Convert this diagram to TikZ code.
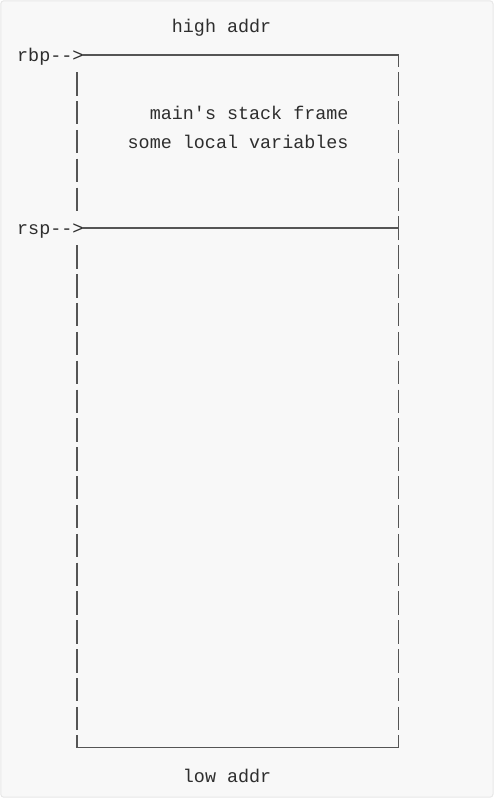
\documentclass[tikz,border=0pt]{standalone}
\usepackage{fontspec}
\newfontfamily\mono{Liberation Mono}
\definecolor{bgc}{HTML}{F8F8F8}
\definecolor{bordc}{HTML}{E8E8E8}
\definecolor{textc}{HTML}{2E2E2E}
\definecolor{linec}{HTML}{555555}
\tikzset{
  txt/.style={font=\mono\fontsize{18.4}{20}\selectfont, text=textc, inner sep=0pt, anchor=base west},
  ln/.style={draw=linec, line width=1.3pt},
}
\begin{document}
\begin{tikzpicture}[x=1pt,y=-1pt]
\useasboundingbox (0,0) rectangle (496,798);
\fill[bgc, draw=bordc, line width=1pt, rounded corners=3pt] (0.8,0.8) rectangle (493,797.2);
% texts (column x = 17 + 11.05 c, row y = 55 + 28.85 k, baseline +6.5)
\node[txt] (hi)   at (171.7, 32.65) {high addr};
\node[txt] (rbp)  at (17, 61.5) {rbp-->};
\node[txt] (main) at (149.6, 119.2) {main's stack frame};
\node[txt] (vars) at (127.5, 148.05) {some local variables};
\node[txt] (rsp)  at (17, 234.6) {rsp-->};
\node[txt] (lo)   at (182.75, 782.6) {low addr};
% rbp line
\coordinate (rbpS) at (82,55);
\coordinate (rbpE) at (398.5,55);
\draw[ln] (rbpS) -- (rbpE) -- ++(0,12);
% rsp line
\coordinate (rspS) at (82,228.1);
\coordinate (rspE) at (398.5,228.1);
\draw[ln] (rspS) -- (rspE);
\draw[ln] ([yshift=-12pt]rspE) -- ([yshift=12pt]rspE);
% bottom
\coordinate (bl) at (77,747.4);
\coordinate (br) at (398.5,747.4);
\draw[ln] ([yshift=12pt]bl) -- (bl) -- (br) -- ([yshift=12pt]br);
% vertical dashes
\foreach \k in {1,...,5,7,8,...,23}{
  \pgfmathsetmacro{\yy}{55+28.85*\k}
  \draw[ln] (77,\yy-11.7) -- (77,\yy+11.7);
  \draw[ln] (398.5,\yy-11.7) -- (398.5,\yy+11.7);
}
\end{tikzpicture}
\end{document}
